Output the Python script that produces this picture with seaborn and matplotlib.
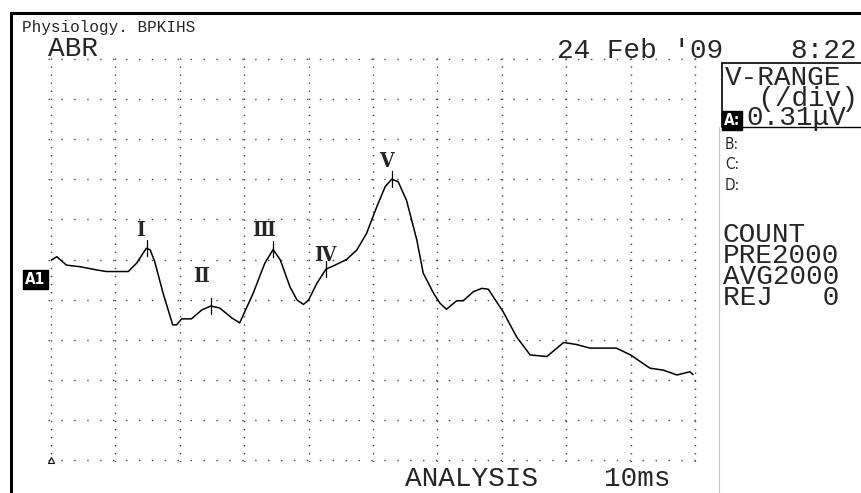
import matplotlib
matplotlib.use("Agg")
import matplotlib.pyplot as plt
import seaborn as sns
from matplotlib.patches import Rectangle
from matplotlib.lines import Line2D

# === Datos (ABR, 10 ms de análisis, 0.31 uV/div) ===
time_ms = [0.01, 0.09, 0.24, 0.45, 0.71, 0.86, 1.20, 1.33, 1.41, 1.48, 1.54, 1.61,
           1.74, 1.89, 1.95, 2.03, 2.18, 2.34, 2.48, 2.62, 2.81, 2.93, 3.14, 3.32,
           3.45, 3.56, 3.71, 3.82, 3.92, 4.00, 4.13, 4.27, 4.41, 4.59, 4.75, 4.90,
           5.06, 5.19, 5.29, 5.39, 5.52, 5.68, 5.78, 5.94, 6.04, 6.14, 6.30, 6.40,
           6.56, 6.69, 6.79, 7.02, 7.23, 7.44, 7.70, 7.96, 8.16, 8.37, 8.78, 9.00,
           9.30, 9.51, 9.72, 9.92, 9.97]
amp_div = [4.99, 5.07, 4.86, 4.82, 4.74, 4.70, 4.70, 4.91, 5.11, 5.28, 5.24, 4.95,
           4.16, 3.37, 3.37, 3.52, 3.52, 3.74, 3.84, 3.79, 3.54, 3.42, 4.16, 4.91,
           5.25, 4.99, 4.32, 3.99, 3.88, 3.99, 4.41, 4.76, 4.86, 5.00, 5.24, 5.65,
           6.32, 6.82, 7.00, 6.94, 6.48, 5.49, 4.66, 4.16, 3.91, 3.76, 3.97, 3.97,
           4.20, 4.28, 4.26, 3.70, 3.07, 2.62, 2.58, 2.93, 2.88, 2.79, 2.79, 2.62,
           2.29, 2.24, 2.12, 2.20, 2.13]

# picos marcados I..V
peak_names = ["Ⅰ", "Ⅱ", "Ⅲ", "Ⅳ", "Ⅴ"]
peak_ms = [1.49, 2.48, 3.45, 4.27, 5.30]
peak_amp = [5.28, 3.85, 5.25, 4.76, 7.00]

range_lines = ["V-RANGE", "  (/div)"]
count_lines = ["COUNT", "PRE2000", "AVG2000", "REJ   0"]
channel_lines = ["B:", "C:", "D:"]

# offsets de etiquetas (pt) respecto al pico
label_off = [(-5, 13), (-7, 21), (-7, 14), (-1, 10), (-4, 13)]

W, H = 862, 493
MONO = "Liberation Mono"
BIG = 20


def fx(px):
    return px / W


def fy(py):
    return (H - py) / H


sns.set_style("white")
plt.rcParams["lines.scale_dashes"] = False
plt.rcParams["font.family"] = ["Liberation Mono", "DejaVu Sans"]

fig = plt.figure(figsize=(W / 100, H / 100), dpi=100)
fig.patch.set_facecolor("white")

# ejes = cuadrícula de 10 x 10 divisiones
ax = fig.add_axes([47.8 / W, 31 / H, 650.4 / W, 405 / H])
ax.set_xlim(-0.05, 10.05)
ax.set_ylim(-0.05, 10.05)
ax.set_xticks(range(11))
ax.set_yticks(range(11))
ax.tick_params(length=0, labelbottom=False, labelleft=False)
for s in ax.spines.values():
    s.set_visible(False)
ax.xaxis.grid(True, color="#444444", lw=1.0, linestyle=(0, (1.0, 4.8)))
ax.yaxis.grid(True, color="#444444", lw=1.0, linestyle=(0, (1.0, 8.3)))
ax.set_axisbelow(True)

sns.lineplot(x=time_ms, y=amp_div, color="black", lw=1.1, ax=ax)

# marcas de pico y números romanos
for name, t, a, off in zip(peak_names, peak_ms, peak_amp, label_off):
    ax.plot([t, t], [a - 0.2, a + 0.2], color="black", lw=0.9)
    ax.annotate(name, (t, a), xytext=off, textcoords="offset points",
                ha="center", va="center", fontsize=15, fontweight="bold",
                fontstretch="condensed",
                family=["DejaVu Serif", "Noto Sans CJK JP"])

# marca de disparo
ax.plot([0], [0], marker="^", ms=5, mfc="white", mec="black", mew=0.8,
        clip_on=False, zorder=5)

ax.set_xlabel("")
ax.set_ylabel("")

# === Marco ===
fig.add_artist(Rectangle((fx(11), -0.05), 1.1, fy(13) + 0.05, fill=False,
                         ec="black", lw=2.2, transform=fig.transFigure))
fig.add_artist(Line2D([fx(719), fx(719)], [0, fy(127)], color="#c8c8c8", lw=0.8))
fig.add_artist(Line2D([fx(722), 1.0], [fy(63), fy(63)], color="black", lw=1.2))
fig.add_artist(Line2D([fx(722), fx(722)], [fy(63), fy(127)], color="black", lw=1.2))
fig.add_artist(Line2D([fx(722), 1.0], [fy(127), fy(127)], color="black", lw=1.0))

# === Textos ===
fig.text(fx(22), fy(32), "Physiology. BPKIHS", fontsize=11.5, family=MONO)
fig.text(fx(73), fy(56), "ABR", fontsize=BIG, family=MONO, ha="center")
fig.text(fx(640), fy(58), "24 Feb '09", fontsize=BIG, family=MONO, ha="center")
fig.text(fx(790), fy(58), "8:22", fontsize=BIG, family=MONO)
fig.text(fx(725), fy(65), "\n".join(range_lines), fontsize=BIG, family=MONO,
         va="top", linespacing=0.75)
fig.text(fx(724), fy(125), "A:", fontsize=11, color="white", fontweight="bold",
         family="DejaVu Sans", fontstretch="condensed",
         bbox=dict(boxstyle="square,pad=0.12", fc="black", ec="black"))
fig.text(fx(746), fy(125), "0.31μV", fontsize=BIG, family=MONO)
fig.text(fx(725), fy(137), "\n".join(channel_lines), fontsize=11, va="top",
         family="DejaVu Sans", fontstretch="condensed", linespacing=1.45)
fig.text(fx(723), fy(222), "\n".join(count_lines), fontsize=BIG, family=MONO,
         va="top", linespacing=0.75)
fig.text(fx(472), fy(486), "ANALYSIS", fontsize=BIG, family=MONO, ha="center")
fig.text(fx(637), fy(486), "10ms", fontsize=BIG, family=MONO, ha="center")

fig.text(fx(25), fy(284), "A1", fontsize=11, color="white", fontweight="bold",
         family="DejaVu Sans", fontstretch="condensed",
         bbox=dict(boxstyle="square,pad=0.15", fc="black", ec="black"))

fig.savefig("out.png", dpi=100, facecolor="white")
